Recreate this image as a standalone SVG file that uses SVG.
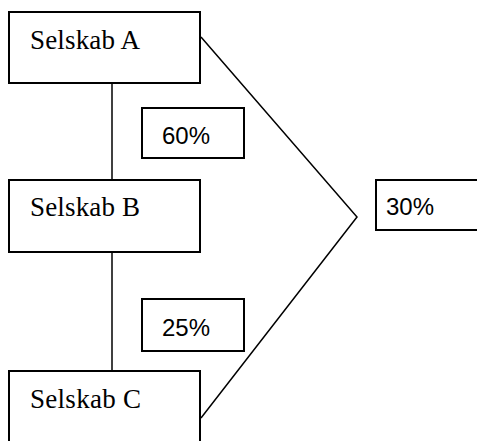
<svg xmlns="http://www.w3.org/2000/svg" width="477" height="441" viewBox="0 0 477 441">
<style>
.box{fill:#fff;stroke:#000;stroke-width:2}
.co{fill:none;stroke:#000;stroke-width:1.5}
.t{font-family:"Liberation Serif",serif;font-size:27px;fill:#000}
.p{font-family:"Liberation Sans",sans-serif;font-size:24px;fill:#000}
</style>
<rect width="477" height="441" fill="#fff"/>
<g id="connectors">
<line class="co" x1="112" y1="83" x2="112" y2="180"/>
<line class="co" x1="112" y1="252" x2="112" y2="371"/>
<polyline class="co" points="201,37 357,217 201,418"/>
</g>
<g id="selskab-a">
<rect class="box" x="9" y="12" width="191" height="71"/>
<text class="t" x="30" y="49" textLength="110">Selskab A</text>
</g>
<g id="selskab-b">
<rect class="box" x="9" y="180" width="191" height="72"/>
<text class="t" x="30" y="216" textLength="110">Selskab B</text>
</g>
<g id="selskab-c">
<rect class="box" x="9" y="371" width="191" height="80"/>
<text class="t" x="30" y="408" textLength="111">Selskab C</text>
</g>
<g id="label-60">
<rect class="box" x="142" y="108" width="102" height="50"/>
<text class="p" x="162" y="144">60%</text>
</g>
<g id="label-25">
<rect class="box" x="142" y="299" width="102" height="52"/>
<text class="p" x="162" y="336">25%</text>
</g>
<g id="label-30">
<rect class="box" x="376" y="180" width="110" height="50"/>
<text class="p" x="386" y="215">30%</text>
</g>
</svg>
